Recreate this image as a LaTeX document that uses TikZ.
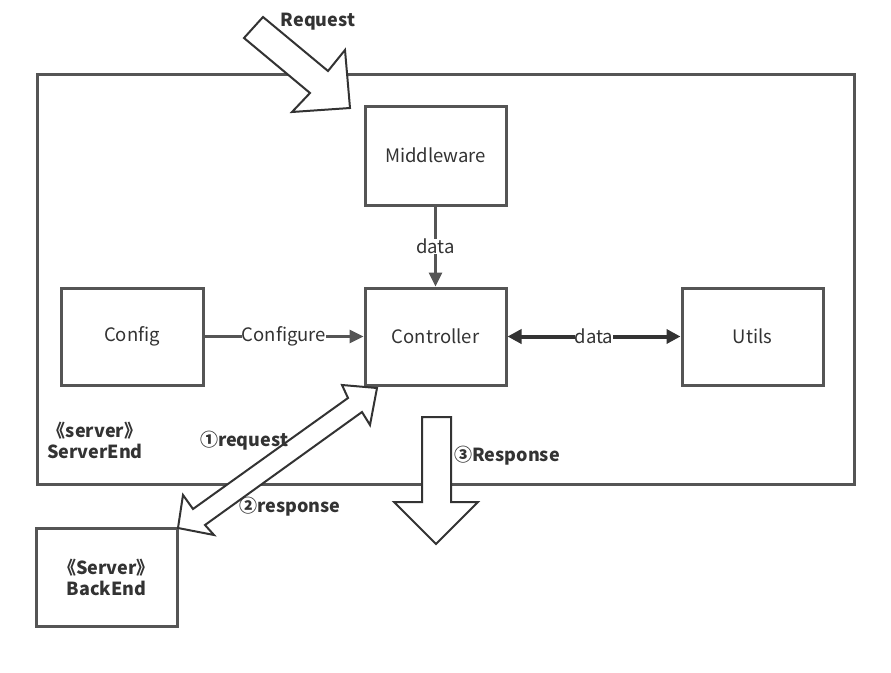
\documentclass[tikz,border=0pt]{standalone}
\usepackage{fontspec}
\setmainfont{Noto Sans CJK SC}
\usetikzlibrary{arrows.meta}
\definecolor{edge}{HTML}{555555}
\definecolor{ink}{HTML}{333333}
\begin{document}
\begin{tikzpicture}[x=1pt,y=-1pt,
  box/.style={draw=edge,line width=3pt,fill=white,inner sep=0pt,font=\fontsize{18.5}{21}\selectfont,text=ink},
  lbl/.style={font=\fontsize{18}{21}\selectfont\bfseries,text=ink,align=center,inner sep=1pt},
  conn/.style={draw=edge,line width=3pt,-{Triangle[length=14pt,width=13pt]},color=edge},
  connlab/.style={fill=white,inner sep=0pt,font=\fontsize{18.5}{21}\selectfont,text=ink},
  big/.style={draw=ink,line width=2pt,fill=white,line join=miter}]
\useasboundingbox (0,0) rectangle (891,672);
\node[draw=edge,line width=3pt,minimum width=817pt,minimum height=410pt,anchor=north west] (outer) at (36,73) {};
\node[box,minimum width=141pt,minimum height=99pt] (mw) at (435.5,155.5) {Middleware};
\node[box,minimum width=141pt,minimum height=97pt] (ctl) at (435.5,336.5) {Controller};
\node[box,minimum width=142pt,minimum height=97pt] (cfg) at (132,336.5) {Config};
\node[box,minimum width=141pt,minimum height=97pt] (utl) at (752.5,336.5) {Utils};
\node[box,minimum width=141pt,minimum height=98pt,font=\fontsize{18}{21}\selectfont\bfseries,align=center] (be) at (106.5,577) {《Server》\\BackEnd};
\node[lbl] (se) at (95,440) {《server》\\ServerEnd};
% connectors
\draw[conn] (mw.south) -- node[connlab] {data} (ctl.north);
\draw[conn] (cfg.east) -- node[connlab,pos=0.5] {Configure} (ctl.west);
\draw[draw=ink,line width=4pt,{Triangle[length=14pt,width=14pt]}-{Triangle[length=14pt,width=14pt]},color=ink] (ctl.east) -- node[connlab] {data} (utl.west);
% big arrows
\draw[big] (263,17) -- (328,71) -- (345,50) -- (350,108) -- (292,112) -- (310,93) -- (244,38) -- cycle;
\draw[big] (377,388) -- (342,385) -- (348,398) -- (193,509) -- (183,495) -- (178,528) -- (214,535) -- (205,525) -- (362,412) -- (370,425) -- cycle;
\draw[big] (422,417) -- (451,417) -- (451,502) -- (478,502) -- (436,544) -- (394,502) -- (422,502) -- cycle;
\node[lbl] (req) at (318,22) {Request};
\node[lbl] (r1) at (244,441) {①request};
\node[lbl] (r2) at (290,507) {②response};
\node[lbl] (r3) at (507,456) {③Response};
\end{tikzpicture}
\end{document}
